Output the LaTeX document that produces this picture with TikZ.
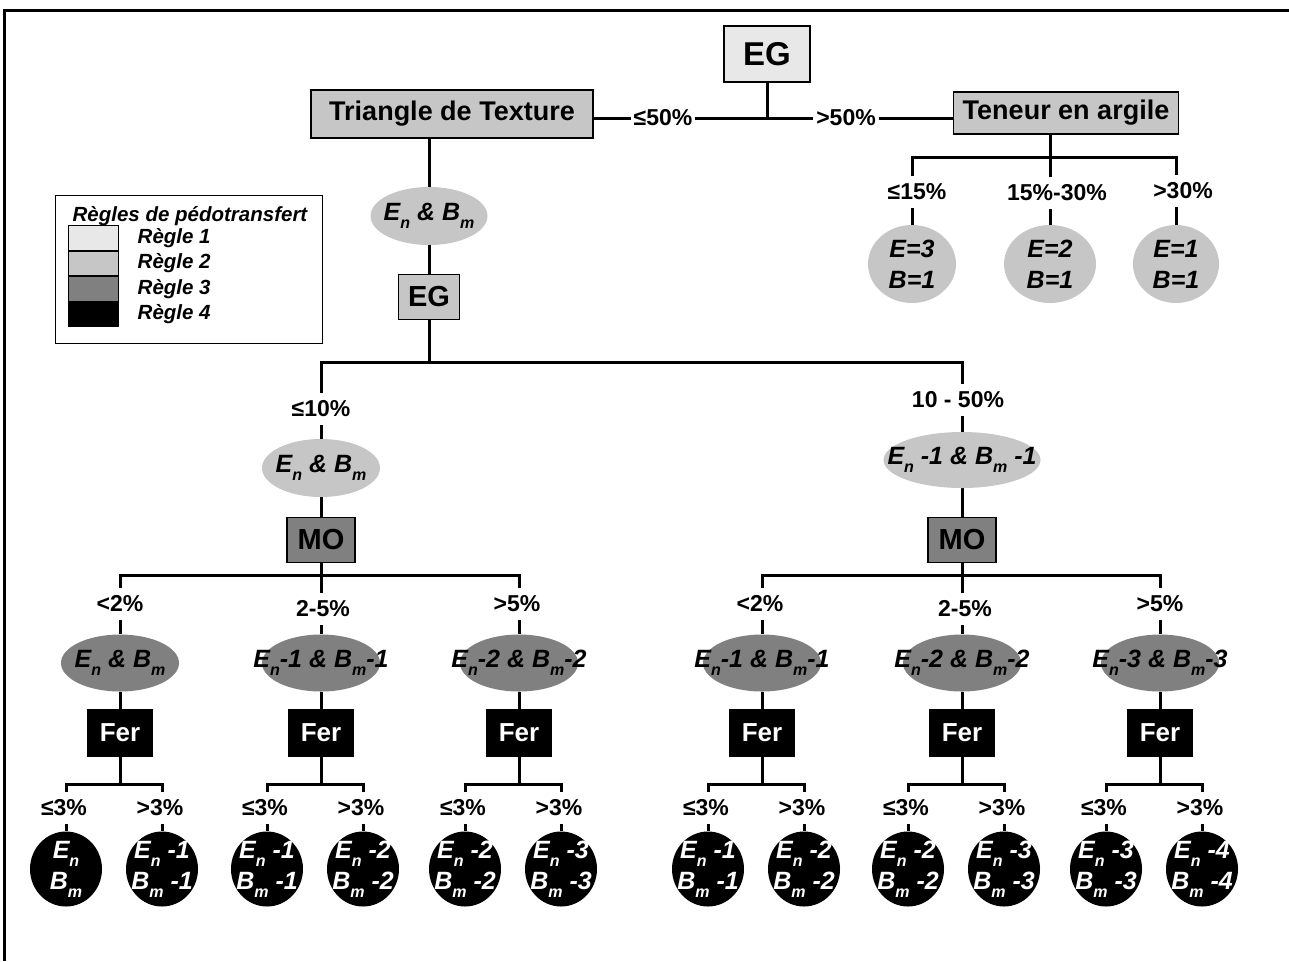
\documentclass[tikz,border=0pt]{standalone}
\usepackage{fontspec}
\setmainfont{Liberation Sans}
\usetikzlibrary{positioning,backgrounds,shapes.geometric}
\definecolor{rOne}{HTML}{E8E8E8}
\definecolor{rTwo}{HTML}{C6C6C6}
\definecolor{rThree}{HTML}{808080}
\tikzset{
  blk/.style={draw, line width=1.5pt, inner sep=0pt,
              font=\fontsize{27}{30}\selectfont\bfseries},
  ruleA/.style={blk, fill=rOne},
  ruleB/.style={blk, fill=rTwo},
  ruleC/.style={blk, fill=rThree, minimum width=68pt, minimum height=45pt,
                font=\fontsize{29}{30}\selectfont\bfseries},
  ruleD/.style={blk, fill=black, text=white, minimum width=64pt, minimum height=47pt,
                font=\fontsize{26}{28}\selectfont\bfseries},
  % the ellipse keeps the size it is given, whatever the text
  oval/.style={ellipse, inner sep=-100pt, align=center,
               font=\fontsize{25}{31}\selectfont\bfseries\itshape},
  ovalB/.style={oval, fill=rTwo},
  ovalC/.style={oval, fill=rThree, minimum width=118pt, minimum height=57pt},
  leaf/.style={oval, fill=black, text=white, minimum width=72pt, minimum height=75pt},
  wire/.style={line width=3pt},
  % condition labels: opaque, so the wire is cut where they sit
  cond/.style={fill=white, inner xsep=3pt, inner ysep=8pt,
               font=\fontsize{23}{25}\selectfont\bfseries},
  legtxt/.style={font=\fontsize{20.5}{22}\selectfont\bfseries\itshape, inner sep=1pt},
  swatch/.style={draw, line width=1pt, minimum width=50pt, minimum height=24.5pt,
                 inner sep=0pt},
}
\newcommand{\lown}[1]{\raisebox{-0.6ex}{\fontsize{16}{16}\selectfont #1}}
\newcommand{\EnBm}[1]{E\lown{n}#1 \& B\lown{m}#1}
\newcommand{\EnBmTwo}[1]{E\lown{n} #1\\B\lown{m} #1}

\begin{document}
\begin{tikzpicture}[x=1pt, y=-1pt]
\useasboundingbox (0,0) rectangle (1289,961);
\draw[line width=3pt] (4,961) -- (4,10) -- (1289,10);

%% ── top: EG and the 50 % split ───────────────────────────────────────────
\node[ruleA, minimum width=86pt, minimum height=56pt,
      font=\fontsize{33}{36}\selectfont\bfseries] (egTop) at (767,54) {EG};
\node[ruleB, minimum width=282pt, minimum height=48pt] (tri) at (452,114) {Triangle de Texture};
\node[ruleB, minimum width=225pt, minimum height=42pt] (ten) at (1066,113) {Teneur en argile};
\coordinate (jTop) at (767,118);
\node[cond, inner ysep=2pt] (c50a) at (663,118) {≤50\%};
\node[cond, inner ysep=2pt] (c50b) at (846,118) {>50\%};

%% ── clay content, right ──────────────────────────────────────────────────
\node[ovalB, minimum width=88pt, minimum height=78pt] (ar1) at (912,264) {E=3\\B=1};
\node[ovalB, minimum width=92pt, minimum height=78pt] (ar2) at (1050,264) {E=2\\B=1};
\node[ovalB, minimum width=86pt, minimum height=78pt] (ar3) at (1176,264) {E=1\\B=1};
\node[cond] (t15) at (917,192) {≤15\%};
\node[cond] (t30) at (1057,193) {15\%-30\%};
\node[cond] (t99) at (1183,191) {>30\%};

%% ── texture triangle, left ───────────────────────────────────────────────
\node[ovalB, minimum width=117pt, minimum height=58pt] (enT) at (429,216) {\EnBm{}};
\node[ruleB, minimum width=61pt, minimum height=45pt,
      font=\fontsize{29}{30}\selectfont\bfseries] (egMid) at (429,297) {EG};
\node[ovalB, minimum width=118pt, minimum height=58pt] (enA) at (321,468) {\EnBm{}};
\node[ovalB, minimum width=157pt, minimum height=56pt] (enB) at (962,460) {\EnBm{ -1}};
\node[cond] (t10) at (321,409) {≤10\%};
\node[cond] (t50) at (958,400) {10 - 50\%};
\node[ruleC] (moA) at (321,540) {MO};
\node[ruleC] (moB) at (962,540) {MO};

%% ── organic matter ───────────────────────────────────────────────────────
\node[ovalC] (kA1) at (120,663) {\EnBm{}};
\node[ovalC] (kA2) at (321,663) {\EnBm{-1}};
\node[ovalC] (kA3) at (519,663) {\EnBm{-2}};
\node[ovalC] (kB1) at (762,663) {\EnBm{-1}};
\node[ovalC] (kB2) at (962,663) {\EnBm{-2}};
\node[ovalC] (kB3) at (1160,663) {\EnBm{-3}};
\node[cond] (pA1) at (120,604) {<2\%};
\node[cond] (pA2) at (323,609) {2-5\%};
\node[cond] (pA3) at (517,604) {>5\%};
\node[cond] (pB1) at (760,604) {<2\%};
\node[cond] (pB2) at (965,609) {2-5\%};
\node[cond] (pB3) at (1160,604) {>5\%};

%% ── iron ─────────────────────────────────────────────────────────────────
\node[ruleD] (fA1) at (120,733) {Fer};
\node[ruleD] (fA2) at (321,733) {Fer};
\node[ruleD] (fA3) at (519,733) {Fer};
\node[ruleD] (fB1) at (762,733) {Fer};
\node[ruleD] (fB2) at (962,733) {Fer};
\node[ruleD] (fB3) at (1160,733) {Fer};

%% ── leaves ───────────────────────────────────────────────────────────────
\node[leaf] (vA1a) at (66,869) {E\lown{n}\\B\lown{m}};
\node[leaf] (vA1b) at (162,869) {\EnBmTwo{-1}};
\node[leaf] (vA2a) at (267,869) {\EnBmTwo{-1}};
\node[leaf] (vA2b) at (363,869) {\EnBmTwo{-2}};
\node[leaf] (vA3a) at (465,869) {\EnBmTwo{-2}};
\node[leaf] (vA3b) at (561,869) {\EnBmTwo{-3}};
\node[leaf] (vB1a) at (708,869) {\EnBmTwo{-1}};
\node[leaf] (vB1b) at (804,869) {\EnBmTwo{-2}};
\node[leaf] (vB2a) at (908,869) {\EnBmTwo{-2}};
\node[leaf] (vB2b) at (1004,869) {\EnBmTwo{-3}};
\node[leaf] (vB3a) at (1106,869) {\EnBmTwo{-3}};
\node[leaf] (vB3b) at (1202,869) {\EnBmTwo{-4}};
\node[cond] (sA1a) at (64,808) {≤3\%};
\node[cond] (sA1b) at (160,808) {>3\%};
\node[cond] (sA2a) at (265,808) {≤3\%};
\node[cond] (sA2b) at (361,808) {>3\%};
\node[cond] (sA3a) at (463,808) {≤3\%};
\node[cond] (sA3b) at (559,808) {>3\%};
\node[cond] (sB1a) at (706,808) {≤3\%};
\node[cond] (sB1b) at (802,808) {>3\%};
\node[cond] (sB2a) at (906,808) {≤3\%};
\node[cond] (sB2b) at (1002,808) {>3\%};
\node[cond] (sB3a) at (1104,808) {≤3\%};
\node[cond] (sB3b) at (1200,808) {>3\%};

%% ── legend ───────────────────────────────────────────────────────────────
\node[draw, line width=1pt, minimum width=267pt, minimum height=148pt, anchor=north west]
  (legBox) at (55,195) {};
\node[legtxt] (legTitle) at (190,216) {Règles de pédotransfert};
\node[swatch, fill=rOne] (sw1) at (93,238) {};
\node[swatch, fill=rTwo, below=0pt of sw1] (sw2) {};
\node[swatch, fill=rThree, below=0pt of sw2] (sw3) {};
\node[swatch, fill=black, below=0pt of sw3] (sw4) {};
\node[legtxt, right=18pt of sw1] (lr1) {Règle 1};
\node[legtxt, right=18pt of sw2] (lr2) {Règle 2};
\node[legtxt, right=18pt of sw3] (lr3) {Règle 3};
\node[legtxt, right=18pt of sw4] (lr4) {Règle 4};

%% ── wires, behind everything ─────────────────────────────────────────────
\begin{scope}[on background layer]
\draw[wire] (tri.east |- jTop) -- (ten.west |- jTop);
\draw[wire] (egTop) -- (jTop);
\draw[wire] (ar2.north |- ten.south) -- ++(0,23) -| (ar1.north);
\draw[wire] (ar2.north |- ten.south) -- ++(0,23) -| (ar3.north);
\draw[wire] (ar2.north |- ten.south) -- (ar2.north);
\draw[wire] (enT.north |- tri.south) -- (enT) -- (egMid);
\draw[wire] (egMid.south) -- ++(0,42) -| (enA.north);
\draw[wire] (egMid.south) -- ++(0,42) -| (enB.north);
\draw[wire] (enA) -- (moA);
\draw[wire] (enB) -- (moB);
\draw[wire] (moA.south) -- ++(0,12) -| (kA1.north);
\draw[wire] (moA.south) -- ++(0,12) -| (kA3.north);
\draw[wire] (moA) -- (kA2);
\draw[wire] (moB.south) -- ++(0,12) -| (kB1.north);
\draw[wire] (moB.south) -- ++(0,12) -| (kB3.north);
\draw[wire] (moB) -- (kB2);
\draw[wire] (kA1) -- (fA1);
\draw[wire] (kA2) -- (fA2);
\draw[wire] (kA3) -- (fA3);
\draw[wire] (kB1) -- (fB1);
\draw[wire] (kB2) -- (fB2);
\draw[wire] (kB3) -- (fB3);
\draw[wire] (fA1.south) -- ++(0,27) -| (vA1a.north);
\draw[wire] (fA1.south) -- ++(0,27) -| (vA1b.north);
\draw[wire] (fA2.south) -- ++(0,27) -| (vA2a.north);
\draw[wire] (fA2.south) -- ++(0,27) -| (vA2b.north);
\draw[wire] (fA3.south) -- ++(0,27) -| (vA3a.north);
\draw[wire] (fA3.south) -- ++(0,27) -| (vA3b.north);
\draw[wire] (fB1.south) -- ++(0,27) -| (vB1a.north);
\draw[wire] (fB1.south) -- ++(0,27) -| (vB1b.north);
\draw[wire] (fB2.south) -- ++(0,27) -| (vB2a.north);
\draw[wire] (fB2.south) -- ++(0,27) -| (vB2b.north);
\draw[wire] (fB3.south) -- ++(0,27) -| (vB3a.north);
\draw[wire] (fB3.south) -- ++(0,27) -| (vB3b.north);
\end{scope}

\end{tikzpicture}
\end{document}
